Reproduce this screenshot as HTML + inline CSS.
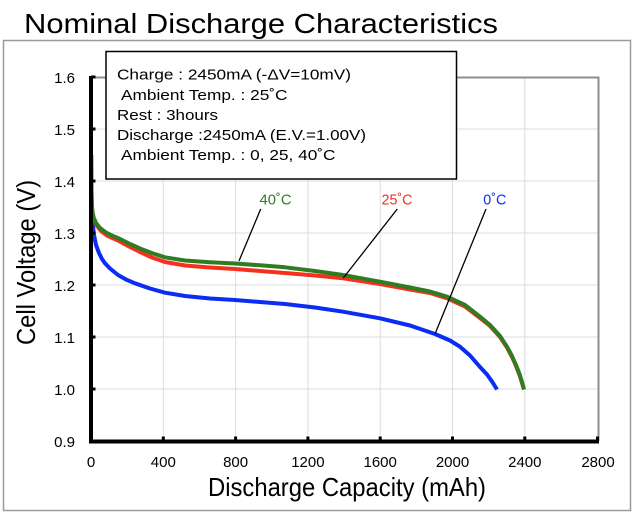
<!DOCTYPE html>
<html>
<head>
<meta charset="utf-8">
<style>
html,body{margin:0;padding:0;background:#fff;}
svg{display:block;}
text{font-family:"Liberation Sans",Arial,sans-serif;}
</style>
</head>
<body>
<svg width="636" height="516" viewBox="0 0 636 516" xmlns="http://www.w3.org/2000/svg">
<rect width="636" height="516" fill="#fff"/>
<!-- title -->
<text x="24" y="33" font-size="28" fill="#000" textLength="474" lengthAdjust="spacingAndGlyphs">Nominal Discharge Characteristics</text>
<!-- outer frame -->
<rect x="3.5" y="40.5" width="627" height="470" fill="#fff" stroke="#9a9a9a" stroke-width="1.5"/>

<!-- gridlines -->
<g stroke="#dcdcdc" stroke-width="1">
<line x1="163.3" y1="77" x2="163.3" y2="441"/>
<line x1="235.6" y1="77" x2="235.6" y2="441"/>
<line x1="307.9" y1="77" x2="307.9" y2="441"/>
<line x1="380.2" y1="77" x2="380.2" y2="441"/>
<line x1="452.5" y1="77" x2="452.5" y2="441"/>
<line x1="524.8" y1="77" x2="524.8" y2="441"/>
<line x1="91" y1="389" x2="599" y2="389"/>
<line x1="91" y1="337" x2="599" y2="337"/>
<line x1="91" y1="285" x2="599" y2="285"/>
<line x1="91" y1="233" x2="599" y2="233"/>
<line x1="91" y1="181" x2="599" y2="181"/>
<line x1="91" y1="129" x2="599" y2="129"/>
</g>
<!-- plot border top/right -->
<g stroke="#8e8e8e" stroke-width="2" fill="none">
<polyline points="91,77.5 598.5,77.5 598.5,441"/>
</g>

<!-- curves -->
<g fill="none" stroke-linejoin="round" stroke-linecap="butt">
<polyline stroke="#0a2cf5" stroke-width="4" points="91.3,155 91.4,180 91.8,205 92.5,222 94,235 96,245 99,253 102,259 105,263.3 110,268.5 118,275 126,279.5 135,283.3 150,288.5 165,292.7 185,296 210,298.5 235,300 260,302 285,304 315,307.5 343,311.7 380,318.3 410,325.5 435,334 450,340.5 460,346.7 470,355.5 480,367 487,374.5 492,381.5 497,389.5"/>
<polyline stroke="#f5301e" stroke-width="4" points="91.3,188 91.8,205 92.5,213 94,220 97,226 101,231 107,235.5 118,240.5 130,247 140,252 152,257.5 165,262 185,265.5 210,267.5 235,269 260,271 285,273 315,275.5 343,278.3 380,284 410,289.5 430,293 447,298.3 465,306.5 480,318 490,326 500,337 507,347.5 512,357 516,366 519.5,375 522,383 524,389.5"/>
<polyline stroke="#2e7d22" stroke-width="4" points="91.3,181 91.6,200 92.2,210 93.5,217 96,223 100,228 106,232.5 113,236 118,238 130,244 140,248.5 151.7,253 165,257.3 185,260.5 210,262.3 235,263.5 260,265.3 285,267.3 315,271 343,275 380,281.7 410,287.5 430,291.5 447,296.7 465,305 480,316.7 490,325 500,336 507,346.7 512,356 516,365 519.5,374 522,382 524,389.5"/>
</g>

<!-- axes -->
<g stroke="#000">
<line x1="91" y1="76" x2="91" y2="443.5" stroke-width="4"/>
<line x1="89" y1="441.5" x2="599" y2="441.5" stroke-width="4"/>
</g>
<g fill="#000">
<rect x="91" y="75.5" width="4.5" height="3"/>
<rect x="91" y="127.5" width="4.5" height="3"/>
<rect x="91" y="179.5" width="4.5" height="3"/>
<rect x="91" y="231.5" width="4.5" height="3"/>
<rect x="91" y="283.5" width="4.5" height="3"/>
<rect x="91" y="335.5" width="4.5" height="3"/>
<rect x="91" y="387.5" width="4.5" height="3"/>
<rect x="161.8" y="436.5" width="3" height="5"/>
<rect x="234.1" y="436.5" width="3" height="5"/>
<rect x="306.4" y="436.5" width="3" height="5"/>
<rect x="378.7" y="436.5" width="3" height="5"/>
<rect x="451" y="436.5" width="3" height="5"/>
<rect x="523.3" y="436.5" width="3" height="5"/>
<rect x="596" y="436.5" width="3" height="5"/>
</g>

<!-- y tick labels -->
<g font-size="15" fill="#000" text-anchor="end">
<text x="75" y="83">1.6</text>
<text x="75" y="135">1.5</text>
<text x="75" y="187">1.4</text>
<text x="75" y="239">1.3</text>
<text x="75" y="291">1.2</text>
<text x="75" y="343">1.1</text>
<text x="75" y="395">1.0</text>
<text x="75" y="447">0.9</text>
</g>
<!-- x tick labels -->
<g font-size="15" fill="#000" text-anchor="middle">
<text x="91" y="467">0</text>
<text x="163.3" y="467">400</text>
<text x="235.6" y="467">800</text>
<text x="307.9" y="467">1200</text>
<text x="380.2" y="467">1600</text>
<text x="452.5" y="467">2000</text>
<text x="524.8" y="467">2400</text>
<text x="598" y="467">2800</text>
</g>

<!-- axis titles -->
<text x="208" y="496" font-size="26" fill="#000" textLength="278" lengthAdjust="spacingAndGlyphs">Discharge Capacity (mAh)</text>
<text transform="translate(35,262.5) rotate(-90)" x="0" y="0" font-size="26" fill="#000" text-anchor="middle" textLength="165" lengthAdjust="spacingAndGlyphs">Cell Voltage (V)</text>

<!-- info box -->
<rect x="106" y="51.5" width="350.5" height="127.5" fill="#fff" stroke="#000" stroke-width="1.5"/>
<g font-size="15" fill="#000">
<text x="117" y="79.5" textLength="234" lengthAdjust="spacingAndGlyphs">Charge : 2450mA (-ΔV=10mV)</text>
<text x="121" y="100" textLength="166.5" lengthAdjust="spacingAndGlyphs">Ambient Temp. : 25˚C</text>
<text x="117" y="120" textLength="101" lengthAdjust="spacingAndGlyphs">Rest : 3hours</text>
<text x="117" y="140" textLength="249" lengthAdjust="spacingAndGlyphs">Discharge :2450mA (E.V.=1.00V)</text>
<text x="121" y="160" textLength="214.5" lengthAdjust="spacingAndGlyphs">Ambient Temp. : 0, 25, 40˚C</text>
</g>

<!-- series labels + leaders -->
<g stroke="#000" stroke-width="1.3">
<line x1="260.7" y1="209" x2="239" y2="261"/>
<line x1="397.3" y1="209" x2="343.3" y2="278"/>
<line x1="486" y1="209" x2="435" y2="334"/>
</g>
<g font-size="15">
<text x="259.5" y="204.5" fill="#2e7d22" textLength="32" lengthAdjust="spacingAndGlyphs">40˚C</text>
<text x="381.5" y="204.5" fill="#f5301e" textLength="31" lengthAdjust="spacingAndGlyphs">25˚C</text>
<text x="483.3" y="204.5" fill="#0a2cf5" textLength="23" lengthAdjust="spacingAndGlyphs">0˚C</text>
</g>
</svg>
</body>
</html>
